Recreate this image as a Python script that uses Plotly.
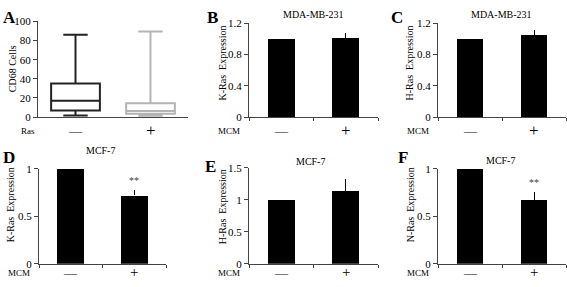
import plotly.graph_objects as go

W, H = 567, 287

# ---- data ----
box_groups = ["—", "+"]
box_q1 = [7, 3.5]
box_median = [17, 6.5]
box_q3 = [35, 14.5]
box_low = [1.7, 1.5]
box_high = [86, 89.5]

bar_groups = ["—", "+"]
B_vals = [1.0, 1.01]; B_err = [0, 0.07]
C_vals = [1.0, 1.05]; C_err = [0, 0.06]
D_vals = [1.0, 0.72]; D_err = [0, 0.06]
E_vals = [1.0, 1.14]; E_err = [0, 0.18]
F_vals = [1.0, 0.67]; F_err = [0, 0.09]

FONT = "Liberation Serif"

def px_x(p):
    return p / W

def px_y(p):
    return 1 - p / H

fig = go.Figure()

# panel geometry (pixels): x0, x1, ytop, ybottom
panels = {
    "A": (38, 188, 16, 116),
    "B": (249, 378, 18, 116),
    "C": (438, 566, 18, 116),
    "D": (39, 166, 170, 269),
    "E": (249, 378, 169, 269),
    "F": (438, 566, 170, 269),
}
names = ["A", "B", "C", "D", "E", "F"]
yranges = {"A": [0, 100], "B": [0, 1.2], "C": [0, 1.2], "D": [0, 1], "E": [0, 1.5], "F": [0, 1]}
ytick = {"A": [0, 20, 40, 60, 80, 100], "B": [0, 0.4, 0.8, 1.2], "C": [0, 0.4, 0.8, 1.2],
         "D": [0, 0.5, 1], "E": [0, 0.5, 1, 1.5], "F": [0, 0.5, 1]}
ytext = {"A": ["0", "20", "40", "60", "80", "100"], "B": ["0", "0.4", "0.8", "1.2"],
         "C": ["0", "0.4", "0.8", "1.2"], "D": ["0", "0.5", "1"], "E": ["0", "0.5", "1", "1.5"],
         "F": ["0", "0.5", "1"]}

layout = {}
for i, n in enumerate(names):
    x0, x1, yt, yb = panels[n]
    sx = "" if i == 0 else str(i + 1)
    layout["xaxis" + sx] = dict(
        domain=[px_x(x0), px_x(x1)], range=[-0.5, 1.5], anchor="y" + sx,
        showline=True, linecolor="#444", linewidth=1, zeroline=False, showgrid=False,
        tickvals=([] if n == "A" else [-0.5, 0.5, 1.5]),
        showticklabels=False, ticks=("" if n == "A" else "outside"), ticklen=3,
        tickcolor="#444", fixedrange=True)
    layout["yaxis" + sx] = dict(
        domain=[px_y(yb), px_y(yt)], range=yranges[n], anchor="x" + sx,
        showline=True, linecolor="#444", linewidth=1, zeroline=False, showgrid=False,
        tickvals=ytick[n], ticktext=ytext[n], ticks="outside", ticklen=4, tickcolor="#444",
        tickfont=dict(family=FONT, size=11, color="#000"), fixedrange=True)

# Panel A boxes
box_colors = ["#222222", "#b4b4b4"]
for j in range(2):
    fig.add_trace(go.Box(
        x=[j], q1=[box_q1[j]], median=[box_median[j]], q3=[box_q3[j]],
        lowerfence=[box_low[j]], upperfence=[box_high[j]],
        width=0.65, whiskerwidth=0.5, fillcolor="white",
        line=dict(color=box_colors[j], width=2), boxpoints=False,
        showlegend=False, xaxis="x", yaxis="y", hoverinfo="skip"))

bar_sets = {"B": (B_vals, B_err), "C": (C_vals, C_err), "D": (D_vals, D_err),
            "E": (E_vals, E_err), "F": (F_vals, F_err)}
for i, n in enumerate(names[1:], start=1):
    vals, err = bar_sets[n]
    sx = str(i + 1)
    fig.add_trace(go.Bar(
        x=[0, 1], y=vals, width=0.42, marker=dict(color="black", line=dict(width=0)),
        error_y=dict(type="data", array=err, arrayminus=[0, 0], symmetric=False,
                     color="black", thickness=1, width=0),
        showlegend=False, xaxis="x" + sx, yaxis="y" + sx, hoverinfo="skip"))

ann = []
# panel letters
letters = {"A": (9, 12), "B": (212, 12), "C": (397, 12), "D": (9, 158), "E": (210, 168), "F": (403, 158)}
for n, (lx, ly) in letters.items():
    ann.append(dict(text="<b>" + n + "</b>", x=px_x(lx), y=px_y(ly), xref="paper", yref="paper",
                    showarrow=False, xanchor="center", yanchor="middle",
                    font=dict(family=FONT, size=17, color="#000")))

# titles
titles = {"B": ("MDA-MB-231", 313, 9), "C": ("MDA-MB-231", 501, 9),
          "D": ("MCF-7", 100, 151), "E": ("MCF-7", 310, 162), "F": ("MCF-7", 500, 161)}
for n, (t, tx, ty) in titles.items():
    ann.append(dict(text=t, x=px_x(tx), y=px_y(ty), xref="paper", yref="paper",
                    showarrow=False, xanchor="center", yanchor="middle",
                    font=dict(family=FONT, size=10, color="#000")))

# y-axis titles
ytitles = {"A": ("CD68 Cells", 12, 66), "B": ("K-Ras  Expression", 222, 60),
           "C": ("H-Ras  Expression", 409, 60), "D": ("K-Ras  Expression", 10, 208),
           "E": ("H-Ras  Expression", 222, 210), "F": ("N-Ras  Expression", 410, 208)}
for n, (t, tx, ty) in ytitles.items():
    ann.append(dict(text=t, x=px_x(tx), y=px_y(ty), xref="paper", yref="paper",
                    showarrow=False, xanchor="center", yanchor="middle", textangle=-90,
                    font=dict(family=FONT, size=10, color="#000")))

# x category labels and row labels
for i, n in enumerate(names):
    x0, x1, yt, yb = panels[n]
    sx = "" if i == 0 else str(i + 1)
    top = yb < 150
    ylab = 130 if top else 278
    groups = box_groups if n == "A" else bar_groups
    for j, g in enumerate(groups):
        ann.append(dict(text=g, x=j, y=px_y(ylab), xref="x" + sx, yref="paper",
                        showarrow=False, xanchor="center", yanchor="middle",
                        font=dict(family=FONT, size=(13 if g == "—" else (17 if top else 15)),
                                  color="#000")))
    lab = "Ras" if n == "A" else "MCM"
    lx = 28 if n == "A" else x0 - 20
    ann.append(dict(text=lab, x=px_x(lx), y=px_y(ylab + (0 if top else 1)),
                    xref="paper", yref="paper",
                    showarrow=False, xanchor="center", yanchor="middle",
                    font=dict(family=FONT, size=9, color="#000")))

# significance stars
for n, sx, yv in [("D", "4", 0.8), ("F", "6", 0.78)]:
    ann.append(dict(text="**", x=1, y=yv, xref="x" + sx, yref="y" + sx,
                    showarrow=False, xanchor="center", yanchor="bottom",
                    font=dict(family=FONT, size=10, color="#444")))

fig.update_layout(**layout)
fig.update_layout(width=W, height=H, margin=dict(l=0, r=0, t=0, b=0),
                  paper_bgcolor="white", plot_bgcolor="white", annotations=ann,
                  bargap=0, showlegend=False)

fig.write_html("out.html", config={"displayModeBar": False},
               post_script="document.body.style.margin='0';document.body.style.overflow='hidden';")
